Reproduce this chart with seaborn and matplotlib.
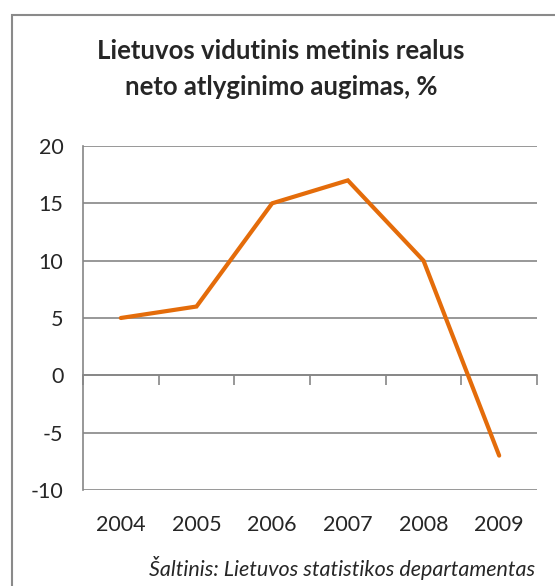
import matplotlib
matplotlib.use("Agg")
import matplotlib.pyplot as plt
import seaborn as sns
import pandas as pd
from matplotlib.patches import Rectangle

years = ["2004", "2005", "2006", "2007", "2008", "2009"]
growth = [5.0, 6.0, 15.0, 17.0, 10.0, -7.0]
yticks = [-10, -5, 0, 5, 10, 15, 20]
title = "Lietuvos vidutinis metinis realus\nneto atlyginimo augimas, %"
source = "Šaltinis: Lietuvos statistikos departamentas"

sns.set_style("white")
plt.rcParams["font.family"] = ["Lato", "DejaVu Sans"]

df = pd.DataFrame({"pos": range(len(years)), "growth": growth})

fig = plt.figure(figsize=(5.55, 5.86), dpi=100)
ax = fig.add_axes([0.1495, 0.1638, 0.8181, 0.5871])

grid_c = "#868686"
sns.lineplot(data=df, x="pos", y="growth", ax=ax, color="#E46C0A", linewidth=3.0,
             solid_capstyle="round", solid_joinstyle="miter")

ax.set_xlim(-0.5, len(years) - 0.5)
ax.set_ylim(-10, 20)
ax.set_yticks(yticks)
ax.set_yticklabels([str(v) for v in yticks], fontsize=15.5)
ax.yaxis.grid(True, color=grid_c, linewidth=1.2)
ax.set_axisbelow(True)
ax.tick_params(axis="y", length=6, width=1.2, color=grid_c, direction="out", pad=8)
ax.set_xticks(range(len(years)))
ax.set_xticklabels(years, fontsize=15.5)
ax.tick_params(axis="x", length=0, pad=18)
ax.set_xlabel("")
ax.set_ylabel("")
for s in ["top", "right", "bottom"]:
    ax.spines[s].set_visible(False)
ax.spines["left"].set_color(grid_c)
ax.spines["left"].set_linewidth(1.2)

# category axis crossing at y=0
sec = ax.secondary_xaxis(10 / 30)
sec.set_xticks([i - 0.5 for i in range(len(years) + 1)])
sec.set_xticklabels([])
sec.tick_params(length=7, width=1.2, color=grid_c, direction="out")
sec.spines["bottom"].set_color(grid_c)
sec.spines["bottom"].set_linewidth(1.2)

fig.text(0.506, 0.883, title, ha="center", va="center", fontsize=18.5,
         fontweight="bold", linespacing=1.6)
fig.text(0.965, 0.031, source, ha="right", va="center", fontsize=15.5, style="italic")

fig.patches.append(Rectangle((12 / 555, -0.05), 1.2, 1 - 15 / 586 + 0.05,
                             transform=fig.transFigure, fill=False,
                             edgecolor="#8a8a8a", linewidth=1.5))

fig.savefig("out.png", dpi=100)
